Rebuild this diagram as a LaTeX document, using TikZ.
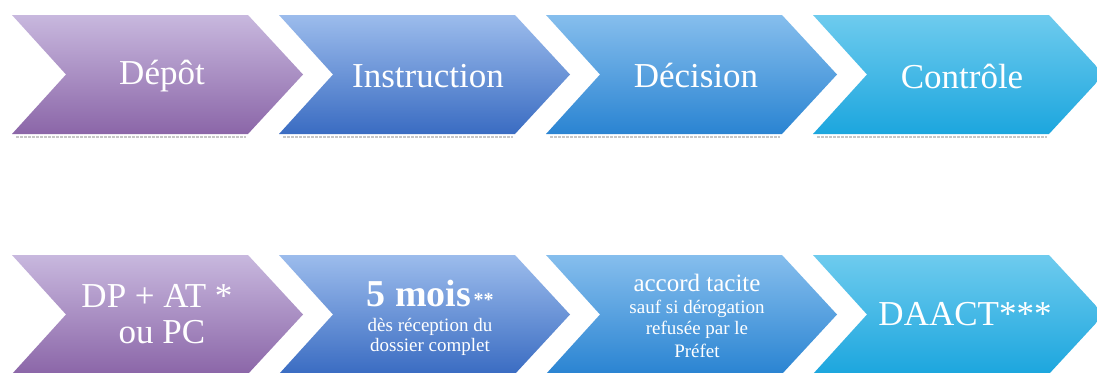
\documentclass[tikz,border=0pt]{standalone}
\usepackage{fontspec}
\setmainfont{Liberation Serif}
\begin{document}
\begin{tikzpicture}[x=1pt,y=-1pt,
  lbl/.style={text=white,align=center,inner sep=0pt},
  bigtxt/.style={lbl,font=\fontsize{35}{38}\selectfont},
  midtxt/.style={lbl,font=\fontsize{25}{27}\selectfont},
  smalltxt/.style={lbl,font=\fontsize{19}{21}\selectfont},
  shadowline/.style={draw=black!22,line width=1.3pt,dash pattern=on 3pt off 1pt}]
\useasboundingbox (0,0) rectangle (1097,372);
\fill[white] (0,0) rectangle (1097,372);

\definecolor{violetA}{RGB}{200,184,222}
\definecolor{violetB}{RGB}{139,102,168}
\definecolor{blueA}{RGB}{156,188,236}
\definecolor{blueB}{RGB}{58,108,194}
\definecolor{skyA}{RGB}{134,190,237}
\definecolor{skyB}{RGB}{42,132,210}
\definecolor{cyanA}{RGB}{110,203,238}
\definecolor{cyanB}{RGB}{28,166,222}

% chevron: #1 left x, #2 top y, #3 top colour, #4 bottom colour
\newcommand{\chevron}[4]{%
  \shade[top color=#3,bottom color=#4]
    (#1,#2) -- ++(236,0) -- ++(55,59.5) -- ++(-55,59.5) -- ++(-236,0)
    -- ++(54,-59.5) -- cycle;}

% upper row: phases
\chevron{12}{15}{violetA}{violetB}
\chevron{279}{15}{blueA}{blueB}
\chevron{546}{15}{skyA}{skyB}
\chevron{813}{15}{cyanA}{cyanB}
\foreach \x in {12,279,546,813}
  \draw[shadowline] (\x+4,137) -- (\x+234,137);

\node[bigtxt] (depot) at (162,76) {Dépôt};
\node[bigtxt] (instr) at (428,76) {Instruction};
\node[bigtxt] (decis) at (696,76) {Décision};
\node[bigtxt] (contr) at (962,76) {Contrôle};

% lower row: details
\chevron{12}{255}{violetA}{violetB}
\chevron{279}{255}{blueA}{blueB}
\chevron{546}{255}{skyA}{skyB}
\chevron{813}{255}{cyanA}{cyanB}

\node[bigtxt] (dp1) at (157,296) {DP + AT *};
\node[bigtxt] (dp2) at (162,332) {ou PC};

\node[lbl] (delai) at (430,293)
  {{\fontsize{38}{40}\selectfont\bfseries 5 mois} {\fontsize{20}{20}\selectfont\bfseries **}};
\node[smalltxt] (delai2) at (430,327) {dès réception du};
\node[smalltxt] (delai3) at (430,347) {dossier complet};

\node[midtxt] (accord1) at (697,283) {accord tacite};
\node[smalltxt] (accord2) at (697,309) {sauf si dérogation};
\node[smalltxt] (accord3) at (697,330) {refusée par le};
\node[smalltxt] (accord4) at (697,351) {Préfet};

\node[bigtxt] (daact) at (965,314) {DAACT***};
\end{tikzpicture}
\end{document}
